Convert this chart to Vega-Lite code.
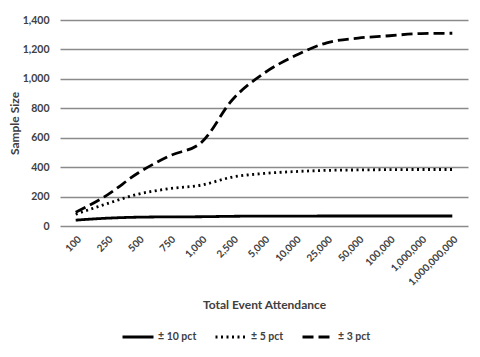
{
  "$schema": "https://vega.github.io/schema/vega-lite/v6.json",
  "width": 408,
  "height": 206,
  "autosize": {"type": "none"},
  "padding": {"left": 60, "top": 20, "right": 12, "bottom": 131},
  "background": "white",
  "config": {
    "view": {"stroke": null},
    "font": "Lato",
    "axis": {"labelFont": "Lato", "titleFont": "Lato", "labelFontWeight": "bold", "titleFontWeight": "bold", "labelColor": "#404040", "titleColor": "#404040"},
    "legend": {"labelFont": "Lato", "labelFontWeight": "bold", "labelColor": "#404040"}
  },
  "data": {
    "values": [
      {"attendance": "100", "series": "± 10 pct", "size": 40},
      {"attendance": "250", "series": "± 10 pct", "size": 53},
      {"attendance": "500", "series": "± 10 pct", "size": 60},
      {"attendance": "750", "series": "± 10 pct", "size": 62},
      {"attendance": "1,000", "series": "± 10 pct", "size": 63},
      {"attendance": "2,500", "series": "± 10 pct", "size": 66},
      {"attendance": "5,000", "series": "± 10 pct", "size": 67},
      {"attendance": "10,000", "series": "± 10 pct", "size": 67},
      {"attendance": "25,000", "series": "± 10 pct", "size": 68},
      {"attendance": "50,000", "series": "± 10 pct", "size": 68},
      {"attendance": "100,000", "series": "± 10 pct", "size": 68},
      {"attendance": "1,000,000", "series": "± 10 pct", "size": 68},
      {"attendance": "1,000,000,000", "series": "± 10 pct", "size": 68},
      {"attendance": "100", "series": "± 5 pct", "size": 80},
      {"attendance": "250", "series": "± 5 pct", "size": 152},
      {"attendance": "500", "series": "± 5 pct", "size": 217},
      {"attendance": "750", "series": "± 5 pct", "size": 254},
      {"attendance": "1,000", "series": "± 5 pct", "size": 278},
      {"attendance": "2,500", "series": "± 5 pct", "size": 333},
      {"attendance": "5,000", "series": "± 5 pct", "size": 357},
      {"attendance": "10,000", "series": "± 5 pct", "size": 370},
      {"attendance": "25,000", "series": "± 5 pct", "size": 378},
      {"attendance": "50,000", "series": "± 5 pct", "size": 381},
      {"attendance": "100,000", "series": "± 5 pct", "size": 383},
      {"attendance": "1,000,000", "series": "± 5 pct", "size": 384},
      {"attendance": "1,000,000,000", "series": "± 5 pct", "size": 384},
      {"attendance": "100", "series": "± 3 pct", "size": 93},
      {"attendance": "250", "series": "± 3 pct", "size": 210},
      {"attendance": "500", "series": "± 3 pct", "size": 362},
      {"attendance": "750", "series": "± 3 pct", "size": 477},
      {"attendance": "1,000", "series": "± 3 pct", "size": 567},
      {"attendance": "2,500", "series": "± 3 pct", "size": 860},
      {"attendance": "5,000", "series": "± 3 pct", "size": 1038},
      {"attendance": "10,000", "series": "± 3 pct", "size": 1158},
      {"attendance": "25,000", "series": "± 3 pct", "size": 1245},
      {"attendance": "50,000", "series": "± 3 pct", "size": 1277},
      {"attendance": "100,000", "series": "± 3 pct", "size": 1293},
      {"attendance": "1,000,000", "series": "± 3 pct", "size": 1308},
      {"attendance": "1,000,000,000", "series": "± 3 pct", "size": 1310}
    ]
  },
  "mark": {"type": "line", "color": "black", "strokeWidth": 2.8, "strokeCap": "butt", "interpolate": "monotone"},
  "encoding": {
    "x": {
      "field": "attendance", "type": "ordinal",
      "scale": {"type": "point", "padding": 0.5, "domain": ["100", "250", "500", "750", "1,000", "2,500", "5,000", "10,000", "25,000", "50,000", "100,000", "1,000,000", "1,000,000,000"]},
      "axis": {"title": "Total Event Attendance", "titleFontSize": 12, "titleY": 78, "titleBaseline": "middle", "labelAngle": -45, "labelFontSize": 10, "labelPadding": 8, "ticks": false, "tickSize": 0, "domain": false, "grid": false}
    },
    "y": {
      "field": "size", "type": "quantitative",
      "scale": {"domain": [0, 1400]},
      "axis": {"title": "Sample Size", "titleFontSize": 12, "titlePadding": 1, "values": [0, 200, 400, 600, 800, 1000, 1200, 1400], "format": ",d", "labelFontSize": 10.5, "labelPadding": 11, "ticks": false, "tickSize": 0, "domain": false, "gridColor": "#8a8a8a", "gridWidth": 1.3}
    },
    "strokeDash": {
      "field": "series", "type": "nominal",
      "scale": {"domain": ["± 10 pct", "± 5 pct", "± 3 pct"], "range": [[1, 0], [2, 3.5], [11, 5]]},
      "legend": {"title": null, "orient": "none", "legendX": 61, "legendY": 300, "direction": "horizontal", "symbolType": "stroke", "symbolSize": 961, "symbolStrokeWidth": 3, "symbolStrokeColor": "black", "labelFontSize": 10.5, "labelOffset": 3, "columnPadding": 12}
    }
  }
}
